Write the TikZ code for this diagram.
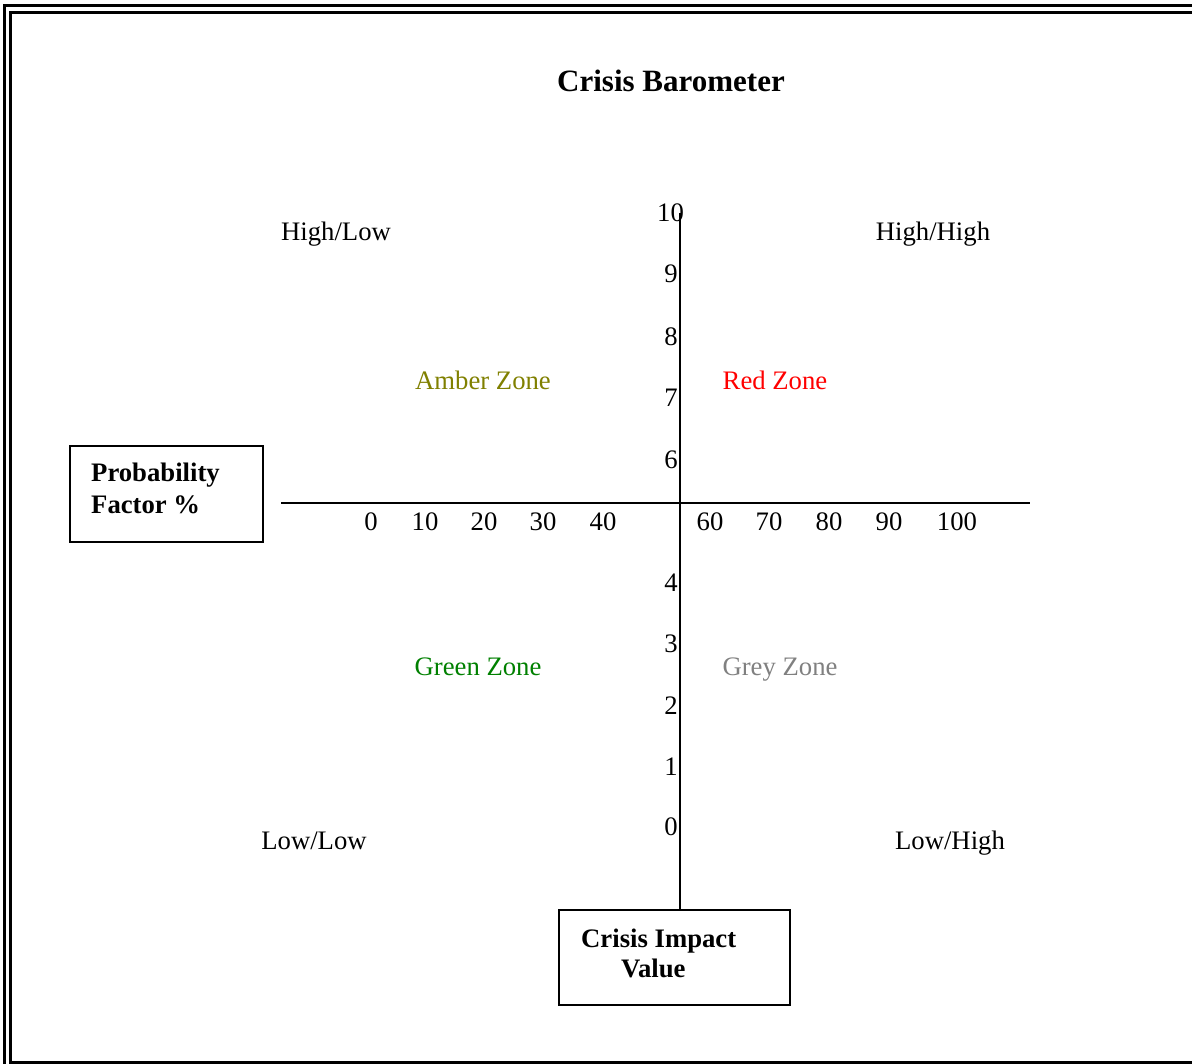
\documentclass[tikz,border=0pt]{standalone}
\usepackage{fontspec}
\setmainfont{Liberation Serif}
\begin{document}
\begin{tikzpicture}[x=1pt,y=-1pt,
  lbl/.style={inner sep=0pt, anchor=base, font=\fontsize{26.7}{30}\selectfont},
  boxlbl/.style={draw, line width=1.8pt, inner sep=0pt},
  axisline/.style={line width=2pt},
  frame/.style={line width=2.2pt}]
\useasboundingbox (0,0) rectangle (1192,1064);
% double frame
\draw[frame] (4.5,1064) -- (4.5,5.5) -- (1192,5.5);
\draw[frame] (1192,12.5) -- (10.5,12.5) -- (10.5,1062.5) -- (1192,1062.5);
% title
\node[inner sep=0pt, anchor=base, font=\fontsize{31}{36}\selectfont\bfseries] (title) at (671,92) {Crisis Barometer};
% boxes
\node[boxlbl, minimum width=193pt, minimum height=96pt] (prob) at (166.5,494) {};
\node[inner sep=0pt, font=\fontsize{26.7}{32}\selectfont\bfseries, anchor=base west] (probtxt1) at (91,482) {Probability};
\node[inner sep=0pt, font=\fontsize{26.7}{32}\selectfont\bfseries, anchor=base west] (probtxt2) at (91,514) {Factor \%};
\node[boxlbl, minimum width=231pt, minimum height=95pt] (impact) at (674.5,957.5) {};
\node[inner sep=0pt, font=\fontsize{26.7}{31}\selectfont\bfseries, anchor=base west] (imp1) at (581,947) {Crisis Impact};
\node[inner sep=0pt, font=\fontsize{26.7}{31}\selectfont\bfseries, anchor=base west] (imp2) at (621,977) {Value};
% axes
\coordinate (vtop) at (680,213);
\coordinate (hl) at (281,503);
\coordinate (hr) at (1030,503);
\draw[axisline] (vtop) -- (vtop |- impact.north);
\draw[axisline] (hl) -- (hr);
% y labels
\node[lbl] (y10) at (670.5,222) {10};
\node[lbl] (y9) at (671,283) {9};
\node[lbl] (y8) at (671,346) {8};
\node[lbl] (y7) at (671,407) {7};
\node[lbl] (y6) at (671,468) {6};
\node[lbl] (y4) at (671,591) {4};
\node[lbl] (y3) at (671,652) {3};
\node[lbl] (y2) at (671,714) {2};
\node[lbl] (y1) at (671,775) {1};
\node[lbl] (y0) at (671,835) {0};
% x labels
\node[lbl] (x0) at (371,530) {0};
\node[lbl] (x10) at (425,530) {10};
\node[lbl] (x20) at (484,530) {20};
\node[lbl] (x30) at (543,530) {30};
\node[lbl] (x40) at (603,530) {40};
\node[lbl] (x60) at (710,530) {60};
\node[lbl] (x70) at (769,530) {70};
\node[lbl] (x80) at (829,530) {80};
\node[lbl] (x90) at (889,530) {90};
\node[lbl] (x100) at (957,530) {100};
% corner and zone labels
\node[lbl] (hl1) at (336,241) {High/Low};
\node[lbl] (hh) at (933,241) {High/High};
\node[lbl] (ll) at (314,849) {Low/Low};
\node[lbl] (lh) at (950,849) {Low/High};
\node[lbl, text={rgb,255:red,128;green,128;blue,0}] (amber) at (483,390) {Amber Zone};
\node[lbl, text=red] (redz) at (775,390) {Red Zone};
\node[lbl, text={rgb,255:red,0;green,128;blue,0}] (green) at (478,675) {Green Zone};
\node[lbl, text={rgb,255:red,128;green,128;blue,128}] (grey) at (780,675) {Grey Zone};
\end{tikzpicture}
\end{document}
